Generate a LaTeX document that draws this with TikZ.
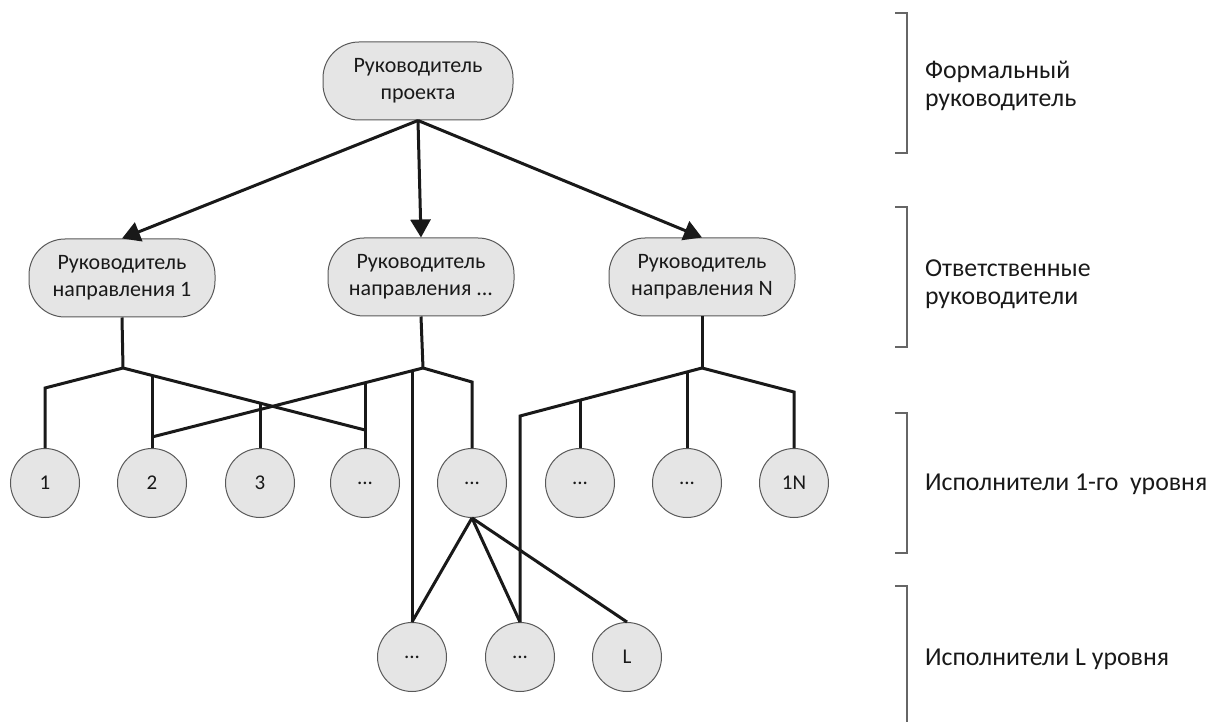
\documentclass[tikz,border=0pt]{standalone}
\usepackage{fontspec}
\setmainfont{Carlito}
\usetikzlibrary{arrows.meta}

\begin{document}
\begin{tikzpicture}[x=0.5pt,y=-0.5pt,
		boss/.style={draw=black!65, fill=black!10, line width=0.5pt, rounded corners=18pt, minimum width=93pt, minimum height=39pt, align=center, text=black!90, font=\fontsize{11}{13.5}\selectfont},
		worker/.style={circle, draw=black!65, fill=black!10, line width=0.5pt, minimum size=34.5pt, inner sep=0pt, text=black!90, font=\fontsize{10.5}{12}\selectfont},
		link/.style={line width=1.5pt, black!90},
		arr/.style={line width=1.5pt, black!90, -{Triangle[length=9pt,width=10pt]}},
		bracket/.style={draw=black!60, line width=0.6pt},
		lvl/.style={anchor=west, align=left, text=black!90, font=\fontsize{12.9}{14}\selectfont}]
		\useasboundingbox (0,0) rectangle (1212,722);
		\node[boss, minimum width=95pt] (top) at (418,81) {Руководитель\\проекта};
		\node[boss] (l1) at (122,278) {Руководитель\\направления 1};
		\node[boss] (l2) at (421,277) {Руководитель\\направления ...};
		\node[boss] (l3) at (702,277) {Руководитель\\направления N};
		\node[worker] (c1) at (45,483) {1};
		\node[worker] (c2) at (152,483) {2};
		\node[worker] (c3) at (260,483) {3};
		\node[worker] (c4) at (365,483) {...};
		\node[worker] (c5) at (472,483) {...};
		\node[worker] (c6) at (580,483) {...};
		\node[worker] (c7) at (687,483) {...};
		\node[worker] (c8) at (794,483) {1N};
		\node[worker] (b1) at (412,657) {...};
		\node[worker] (b2) at (520,657) {...};
		\node[worker] (b3) at (627,657) {L};
		\coordinate (j1) at (123,368);
		\coordinate (j2) at (423,368);
		\coordinate (j3) at (702,368);
		\draw[arr] (top.south) -- (l1.north);
		\draw[arr] (top.south) -- (l2.north);
		\draw[arr] (top.south) -- (l3.north);
		\draw[link] (l1.south) -- (j1);
		\draw[link] (l2.south) -- (j2);
		\draw[link] (l3.south) -- (j3);
		\draw[link] (j1) -- (c1.north |- 0,388) -- (c1.north);
		\draw[link] (j1) -- (c4.north |- 0,430);
		\draw[link] (c2.north) -- (c2.north |- 0,376);
		\draw[link] (c3.north) -- (c3.north |- 0,404);
		\draw[link] (j2) -- (c2.north |- 0,437);
		\draw[link] (j2) -- (c5.north |- 0,382) -- (c5.north);
		\draw[link] (c4.north) -- (c4.north |- 0,382);
		\draw[link] (b1.north) -- (b1.north |- 0,371);
		\draw[link] (j3) -- (c8.north |- 0,392) -- (c8.north);
		\draw[link] (j3) -- (b2.north |- 0,416) -- (b2.north);
		\draw[link] (c6.north) -- (c6.north |- 0,400);
		\draw[link] (c7.north) -- (c7.north |- 0,372);
		\draw[link] (c5.south) -- (b1.north);
		\draw[link] (c5.south) -- (b2.north);
		\draw[link] (c5.south) -- (b3.north);
		\draw[bracket] (895,13) -- (907,13) -- (907,153) -- (895,153);
		\draw[bracket] (895,207) -- (907,207) -- (907,347) -- (895,347);
		\draw[bracket] (895,413) -- (907,413) -- (907,553) -- (895,553);
		\draw[bracket] (895,586) -- (907,586) -- (907,722);
		\node[lvl] (lab1) at (918,86) {Формальный\\руководитель};
		\node[lvl] (lab2) at (918,284) {Ответственные\\руководители};
		\node[lvl] (lab3) at (918,484) {Исполнители 1-го~ уровня};
		\node[lvl] (lab4) at (918,659) {Исполнители L уровня};
	\end{tikzpicture}
\end{document}
